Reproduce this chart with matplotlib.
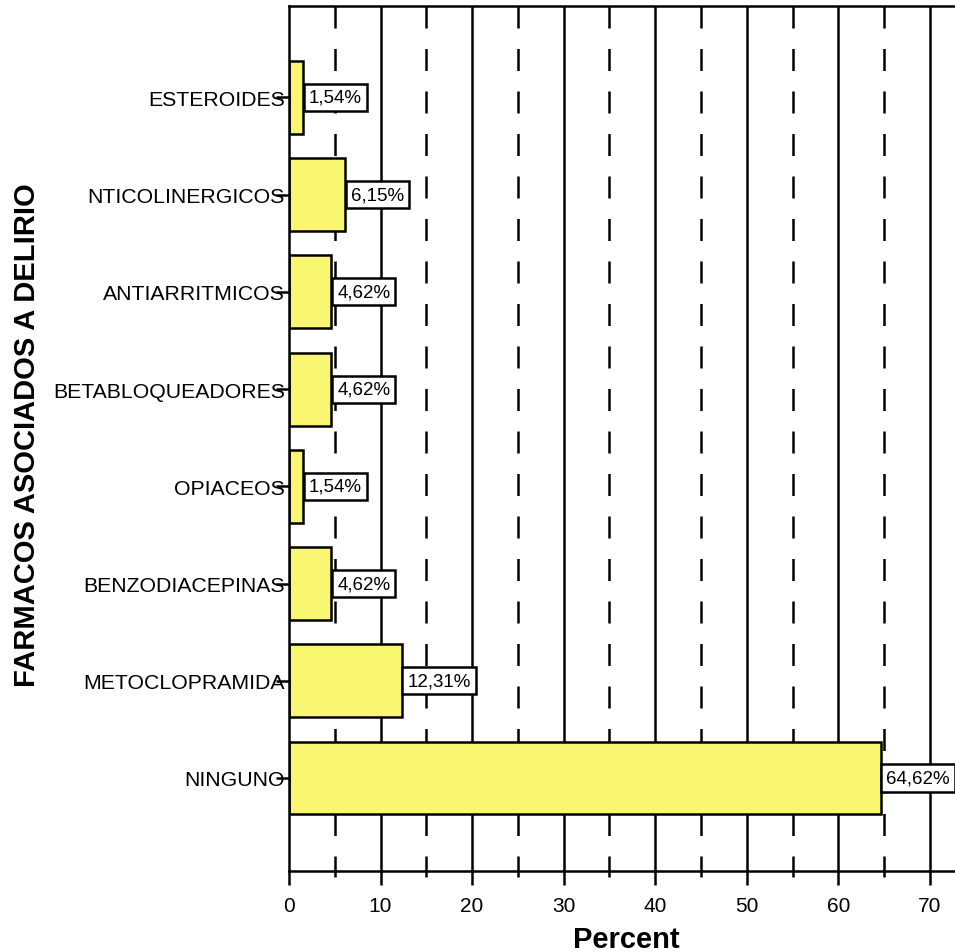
import matplotlib
matplotlib.use("Agg")
import matplotlib.pyplot as plt

plt.rcParams['font.family'] = ['Liberation Sans', 'DejaVu Sans']

# farmacos, from bottom (NINGUNO) to top (ESTEROIDES)
farmacos = ['NINGUNO', 'METOCLOPRAMIDA', 'BENZODIACEPINAS', 'OPIACEOS',
            'BETABLOQUEADORES', 'ANTIARRITMICOS', 'NTICOLINERGICOS', 'ESTEROIDES']
porcentaje = [64.62, 12.31, 4.62, 1.54, 4.62, 4.62, 6.15, 1.54]
etiquetas = ['64,62%', '12,31%', '4,62%', '1,54%', '4,62%', '4,62%', '6,15%', '1,54%']

fig = plt.figure(figsize=(9.55, 9.53), dpi=100)
ax = fig.add_axes([289 / 955, 1 - 872 / 953, 1 - 289 / 955, 865 / 953])

pos = list(range(len(farmacos)))
ax.set_xlim(0, 72.75)
ax.set_ylim(-0.957, 7.941)

# grid: solid every 10, dashed every 5
ybot, ytop = ax.get_ylim()
for x in range(10, 71, 10):
    ax.plot([x, x], [ybot, ytop], color='black', lw=1.8, zorder=1)
for x in range(5, 66, 10):
    ax.plot([x, x], [ytop, ybot], color='black', lw=1.8, zorder=1,
            dashes=(8.8, 8.2), dash_capstyle='butt')

ax.barh(pos, porcentaje, height=0.75, color='#F9F772', edgecolor='black',
        linewidth=1.8, zorder=2)

for p, v, t in zip(pos, porcentaje, etiquetas):
    ax.annotate(t, xy=(v, p), xytext=(4.2, 0), textcoords='offset points',
                ha='left', va='center', fontsize=13.5, zorder=4, annotation_clip=False,
                bbox=dict(boxstyle='square,pad=0.27', fc='white', ec='black', lw=1.8))

ax.set_yticks(pos)
ax.set_yticklabels(farmacos, fontsize=15.3)
ax.set_xticks(range(0, 71, 10))
ax.set_xticks(range(5, 70, 10), minor=True)
ax.tick_params(axis='x', which='major', length=10, width=1.8, labelsize=15, pad=8)
ax.tick_params(axis='x', which='minor', length=4.5, width=1.8)
ax.tick_params(axis='y', length=9.4, width=1.8, pad=-6.5)

for s in ['left', 'top', 'bottom']:
    ax.spines[s].set_linewidth(1.8)
ax.spines['right'].set_visible(False)

ax.set_xlabel('Percent', fontsize=21, fontweight='bold', va='center')
ax.xaxis.set_label_coords(0.506, -0.079)
ax.set_ylabel('FARMACOS ASOCIADOS A DELIRIO', fontsize=21, fontweight='bold', va='center')
ax.yaxis.set_label_coords(-0.393, 0.505)

fig.savefig('out.png', dpi=100)
